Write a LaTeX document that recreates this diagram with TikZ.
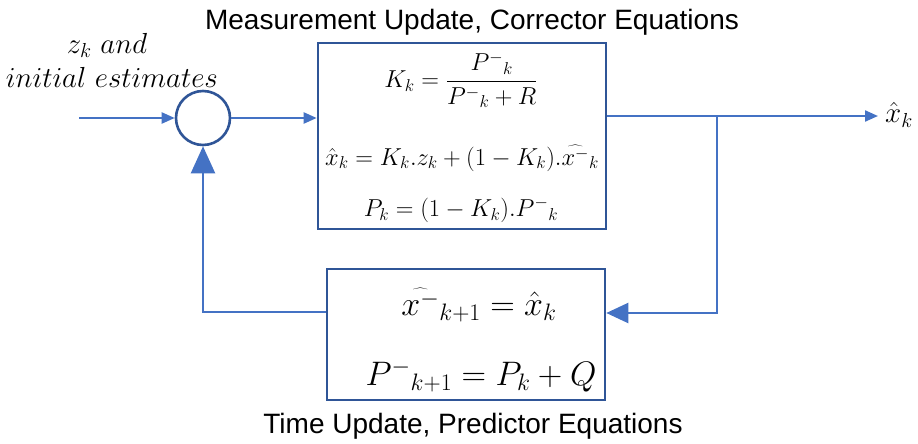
\RequirePackage{fix-cm}
\documentclass[tikz,border=0pt]{standalone}
\usepackage{fontspec}
\newfontfamily\arialf{Liberation Sans}
\usetikzlibrary{arrows.meta}
\definecolor{boxblue}{HTML}{2F5597}
\definecolor{lineblue}{HTML}{4472C4}
\tikzset{
  blockbox/.style={draw=boxblue, line width=2.6pt, inner sep=0pt},
  conn/.style={draw=lineblue, line width=2.2pt},
  smallarrow/.style={-{Triangle[length=13pt,width=11pt]}},
  midarrow/.style={-{Triangle[length=22pt,width=20pt]}},
  bigarrow/.style={-{Triangle[length=27pt,width=24pt]}},
  caption/.style={font=\arialf\fontsize{28}{32}\selectfont, inner sep=0pt},
  eqtop/.style={font=\fontsize{24.5}{29}\selectfont, inner sep=0pt},
  eqbot/.style={font=\fontsize{34}{40}\selectfont, inner sep=0pt},
  inlabel/.style={font=\fontsize{29}{34}\selectfont, inner sep=0pt},
}
\begin{document}
\begin{tikzpicture}[x=1pt,y=-1pt]
\useasboundingbox (0,0) rectangle (918,444);
% blocks
\node[blockbox, circle, minimum size=54pt] (sum) at (203,118) {};
\node[blockbox, minimum width=288pt, minimum height=186pt] (mu) at (462,136) {};
\node[blockbox, minimum width=278pt, minimum height=131pt] (tu) at (466,334.5) {};
% captions
\node[caption, anchor=base] (t1) at (472,30) {Measurement Update, Corrector Equations};
\node[caption, anchor=base] (t2) at (473,433) {Time Update, Predictor Equations};
% input labels
\node[inlabel, anchor=base] (in1) at (107,53) {$z_k\ and$};
\node[inlabel, anchor=base] (in2) at (112,88) {$initial\ estimates$};
% equations top
\node[eqtop] (e1) at (461,80) {$K_k = {\displaystyle\frac{P^{-}{}_{k}}{P^{-}{}_{k}+R}}$};
\node[eqtop] (e2) at (462,158) {$\hat{x}_k = K_k.z_k + (1-K_k).\widehat{x^{-}}_{k}$};
\node[eqtop] (e3) at (461,210) {$P_k = (1-K_k).P^{-}{}_{k}$};
% equations bottom
\node[eqbot] (e4) at (479,305) {$\widehat{x^{-}}_{k+1} = \hat{x}_k$};
\node[eqbot] (e5) at (481,376) {$P^{-}{}_{k+1} = P_k + Q$};
% output label
\node[inlabel, anchor=west] (xo) at (885,115) {$\hat{x}_k$};
% coordinates
\coordinate (inp) at (79,118);
\coordinate (out) at (878,116);
\coordinate (br) at (717,116);
\coordinate (fb) at (717,313);
\coordinate (fbl) at (203,312);
% connectors
\draw[conn, smallarrow] (inp) -- (sum.west);
\draw[conn, smallarrow] (sum.east) -- (sum.east -| mu.west);
\draw[conn, smallarrow] (out -| mu.east) -- (out);
\draw[conn, midarrow] (br) -- (fb) -- (fb -| tu.east);
\draw[conn, bigarrow] (fbl -| tu.west) -- (fbl) -- (sum.south);
\end{tikzpicture}
\end{document}
